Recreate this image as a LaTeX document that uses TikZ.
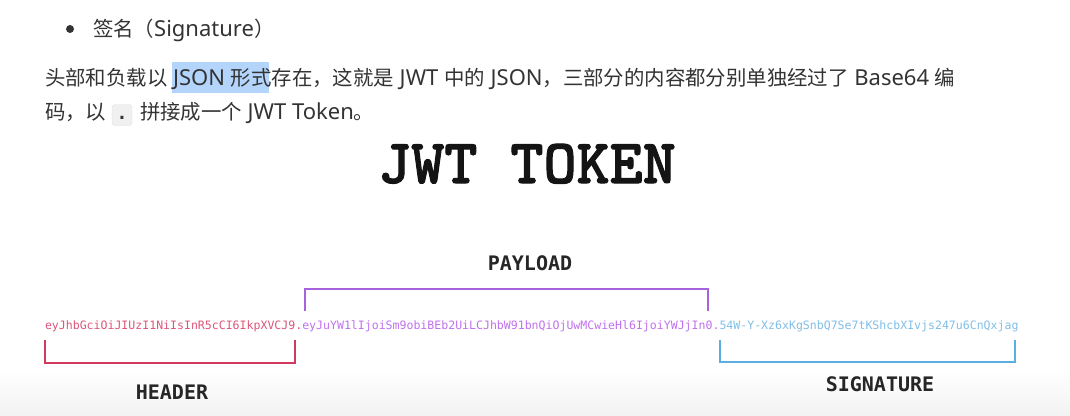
\documentclass[tikz,border=0pt]{standalone}
\usepackage{fontspec}
\usepackage{graphicx}
\setmainfont{Noto Sans}
\newfontfamily\cjk{Noto Sans CJK SC}
\newfontfamily\dvmono{DejaVu Sans Mono}
\newfontfamily\jwtf{lmmonolt10-bold.otf}[FakeBold=1.6]
\newcommand\lat[1]{{\fontsize{22}{24}\selectfont #1}}
\definecolor{textc}{HTML}{333333}
\definecolor{hlc}{HTML}{B4D5FB}
\definecolor{hdrbr}{HTML}{CF3A5E}
\definecolor{hdrtx}{HTML}{DC5579}
\definecolor{paybr}{HTML}{A862DC}
\definecolor{paytx}{HTML}{C070EE}
\definecolor{sigbr}{HTML}{5AAEE0}
\definecolor{sigtx}{HTML}{80BEE6}
\begin{document}
\begin{tikzpicture}[x=1pt,y=-1pt,
  every node/.style={inner sep=0pt,outer sep=0pt},
  para/.style={anchor=base west,text=textc,font=\cjk\fontsize{20.4}{24}\selectfont},
  tok/.style={anchor=base west,font=\dvmono\fontsize{11.55}{14}\selectfont},
  lbl/.style={anchor=base,text=black!85,font=\dvmono\bfseries\fontsize{20}{24}\selectfont},
  brk/.style={line width=2.5pt,line cap=butt,line join=miter}]
\useasboundingbox (0,0) rectangle (1070,415);
\shade[top color=white,bottom color=black!5] (0,370) rectangle (1070,415);

% bullet line
\fill[textc] (70,29) circle (4);
\node[para] (bul) at (93,36.5) {签名（\rmfamily\lat{Signature}\cjk ）};

% paragraph
\fill[hlc] (172,62) rectangle (269,93);
\node[para] (l1) at (45,85.5) {头部和负载以\rmfamily\lat{ JSON }\cjk 形式存在，这就是\rmfamily\lat{ JWT }\cjk 中的\rmfamily\lat{ JSON}\cjk ，三部分的内容都分别单独经过了\rmfamily\lat{ Base64 }\cjk 编};
\node[para] (l2a) at (45,119.5) {码，以};
\node[anchor=base,draw=black!12,fill=black!6,rounded corners=3pt,text height=15pt,text depth=6pt,minimum width=20pt,
      font=\dvmono\bfseries\fontsize{18}{20}\selectfont,text=textc] (dot) at (122,119.5) {.};
\node[para] (l2b) at (140,119.5) {拼接成一个\rmfamily\lat{ JWT Token}\cjk 。};

% title
\node[anchor=base,font=\jwtf\fontsize{63}{70}\selectfont,text=black!92] (title) at (527,183) {JWT TOKEN};

% token
\node[tok,text=hdrtx] (tokh) at (45,329.5) {eyJhbGciOiJIUzI1NiIsInR5cCI6IkpXVCJ9.};
\node[tok,text=paytx] (tokp) at (tokh.base east) {eyJuYW1lIjoiSm9obiBEb2UiLCJhbW91bnQiOjUwMCwieHl6IjoiYWJjIn0.};
\node[tok,text=sigtx] (toks) at (tokp.base east) {54W-Y-Xz6xKgSnbQ7Se7tKShcbXIvjs247u6CnQxjag};

% brackets
\draw[brk,draw=paybr] (305,311) -- (305,289) -- (708,289) -- (708,311);
\draw[brk,draw=hdrbr] (45,340) -- (45,363) -- (295,363) -- (295,340);
\draw[brk,draw=sigbr] (720,340) -- (720,362) -- (1015,362) -- (1015,340);

% labels
\node[lbl] (payl) at (530,270) {PAYLOAD};
\node[lbl] (hdrl) at (172,399) {HEADER};
\node[lbl] (sigl) at (880,391) {SIGNATURE};
\end{tikzpicture}
\end{document}
